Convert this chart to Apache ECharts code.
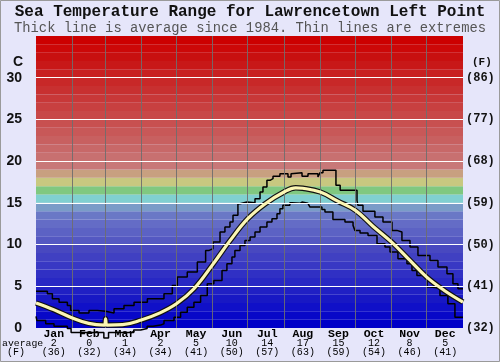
<!DOCTYPE html>
<html><head><meta charset="utf-8">
<script src="https://cdn.jsdelivr.net/npm/echarts@6/dist/echarts.min.js"></script>
<style>html,body{margin:0;padding:0;background:#e6e6fa}#c{width:500px;height:362px}</style>
</head><body><div id="c"></div>
<script>
const titleText = 'Sea Temperature Range for Lawrencetown Left Point';
const subtitleText = 'Thick line is average since 1984. Thin lines are extremes';
const months = ['Jan','Feb','Mar','Apr','May','Jun','Jul','Aug','Sep','Oct','Nov','Dec'];
const monthAvgC = [2,0,1,2,5,10,14,17,15,12,8,5];
const monthAvgF = [36,32,34,34,41,50,57,63,59,54,46,41];
const monthStartDays = [0,31,59,90,120,151,181,212,243,273,304,334,365];
const yTicksC = [0,5,10,15,20,25,30];
const bandColors = ['#0000c8','#0808c8','#1010c8','#1818c4','#2020c4',
  '#2828c4','#3030c4','#3838c4','#4040c2','#4848c0',
  '#5458c2','#5c62c4','#646cc6','#6a78c6','#7a9cc8',
  '#80d0d0','#80c880','#c8c880','#c8a080','#c87878',
  '#c87070','#c86868','#c86060','#c85858','#c85050',
  '#c84848','#c84040','#c83838','#c83030','#c82828',
  '#c82020','#c81818','#c81010','#cc0808','#cc0000'];
const maxLine = [[0,4.4],[9.7,4.1],[14,3.5],[19.7,3.1],[26.8,2.7],[29.6,2.1],[36.8,1.8],[45.3,2.1],[52.4,2.0],[59.5,1.8],[66.7,2.3],[75.2,2.7],[83.8,3.1],[95.2,3.5],[109.4,4.1],[116.5,5.1],[120.8,6.1],[129.3,6.7],[137.9,7.9],[145,9.3],[148,9.5],[151.3,10.3],[157.3,11.5],[161.5,12.1],[165.8,12.7],[168.4,13.5],[172.6,14.9],[174.4,15.1],[180.3,15.0],[187.2,15.5],[191.5,16.3],[194,16.9],[197.4,17.7],[200,17.9],[202.6,18.2],[208.5,18.5],[215.4,18.1],[218,18.5],[219.7,18.6],[227.4,18.2],[232.5,18.5],[241,18.1],[242.7,18.6],[245.3,18.9],[256.4,17.1],[260,16.5],[274.4,15.3],[275.2,14.7],[279.5,14.0],[289.7,13.3],[296.6,12.7],[304.3,11.7],[308.5,11.5],[312.8,10.5],[319.7,9.7],[326.5,8.7],[336.8,8.1],[343.6,7.3],[351.3,6.5],[356.4,5.3],[360.7,4.7],[365,4.7]];
const minLine = [[0,1.4],[0.8,0.9],[8.3,0.5],[15.4,0.2],[26.8,-0.05],[30,-0.55],[58,-1.2],[62,-0.55],[83.5,-0.25],[89.5,-0.05],[95,0.2],[100,0.35],[106.5,0.5],[109.4,0.9],[118,1.3],[123.6,1.9],[129.3,2.5],[135,3.1],[140.7,3.9],[146.4,5.3],[152,5.7],[159,6.9],[163.2,7.7],[167.5,8.5],[170,9.3],[174.4,9.9],[178.6,10.5],[183,10.9],[187.2,11.5],[191.5,12.1],[197.4,12.7],[201.7,13.1],[206,13.7],[208.5,14.3],[211,14.7],[217,15.0],[218.8,14.95],[225.6,15.1],[227.4,14.95],[232.5,15.1],[234.2,14.5],[244.4,14.2],[247,13.9],[253.8,13.0],[264.1,12.7],[271,12.3],[272.6,11.7],[277,11.4],[283.8,11.1],[291.5,10.1],[298.3,9.7],[302.6,9.1],[309.4,8.3],[317.1,7.7],[321.4,6.9],[325.6,6.3],[330,6.1],[334.2,4.9],[336.8,4.8],[345.3,3.9],[352.1,2.9],[358.1,1.3],[365,1.3]];
const avgLine = [[0,3.0],[15,2.2],[31,1.2],[45,0.55],[58.5,0.35],[59.5,1.1],[60.5,0.35],[74,0.4],[90,0.95],[105,1.75],[120,2.9],[135,4.7],[151,7.6],[166,10.5],[181,13.1],[196,14.9],[212,16.3],[222,16.8],[228,16.75],[243,16.3],[258,15.2],[273,14.1],[288,12.2],[304,10.3],[319,8.2],[334,6.1],[349,4.5],[365,3.1]];

const mono = '"Liberation Mono", "DejaVu Sans Mono", monospace';
const chart = echarts.init(document.getElementById('c'), null, {renderer:'canvas'});
const yAxisBase = {type:'value', min:0, max:35, interval:5,
  axisLine:{show:false}, axisTick:{show:false}, splitLine:{show:false}};
chart.setOption({
  backgroundColor:'#e6e6fa',
  animation:false,
  title:[
    {text:titleText, left:'center', top:4, padding:0, textStyle:{fontFamily:mono, fontWeight:'bold', fontSize:16, color:'#111', lineHeight:16}},
    {text:subtitleText, left:'center', top:21, padding:0, textStyle:{fontFamily:mono, fontWeight:'normal', fontSize:13.8, color:'#555', lineHeight:14}}
  ],
  grid:{left:36, right:37, top:36, bottom:34, containLabel:false},
  xAxis:[
    {type:'value', min:0, max:365,
      axisLine:{show:false}, axisTick:{show:false}, splitLine:{show:false}, axisLabel:{show:false}},
    {type:'category', data:months, position:'bottom', boundaryGap:true,
      axisLine:{show:false}, axisTick:{show:false}, splitLine:{show:false},
      axisLabel:{margin:1, interval:0,
        formatter:(v,i)=>'{m|'+v+'}\n{n|'+monthAvgC[i]+'}\n{n|('+monthAvgF[i]+')}',
        rich:{m:{fontFamily:mono, fontWeight:'bold', fontSize:11.5, lineHeight:10, color:'#000'},
              n:{fontFamily:mono, fontSize:10, lineHeight:9, color:'#000'}}}}
  ],
  yAxis:[
    Object.assign({}, yAxisBase, {position:'left', axisLabel:{margin:14, fontFamily:'"Liberation Sans", Arial, sans-serif', fontWeight:'bold', fontSize:14, color:'#111',
      formatter:v=> yTicksC.indexOf(v)>=0 ? String(v) : ''}}),
    Object.assign({}, yAxisBase, {position:'right', axisLabel:{margin:3, fontFamily:mono, fontWeight:'bold', fontSize:12, color:'#111',
      formatter:v=> yTicksC.indexOf(v)>=0 ? '('+Math.round(v*9/5+32)+')' : ''}})
  ],
  graphic:[
    {type:'text', left:13, top:55, style:{text:'C', font:'bold 14px "Liberation Sans", Arial, sans-serif', fill:'#111'}},
    {type:'text', left:472, top:57, style:{text:'(F)', font:'bold 11px '+mono, fill:'#111'}},
    {type:'text', left:2, top:338, style:{text:'average', font:'9.8px '+mono, fill:'#000'}},
    {type:'text', left:7, top:347, style:{text:'(F)', font:'10px '+mono, fill:'#000'}},
    {type:'rect', shape:{x:0.5, y:0.5, width:499, height:361}, style:{fill:'none', stroke:'#9a9a9a', lineWidth:1}, silent:true, z:100}
  ],
  series:[
    {type:'line', name:'bands', data:[], z:1, silent:true,
      markArea:{silent:true, data: bandColors.map((c,i)=>[{yAxis:i, itemStyle:{color:c}},{yAxis:i+1}])}},
    {type:'line', name:'grid', data:[], z:2, silent:true,
      markLine:{silent:true, symbol:['none','none'], label:{show:false}, animation:false,
        data: monthStartDays.slice(1,-1).map(d=>({xAxis:d, lineStyle:{color:'rgba(110,110,110,0.9)', width:1, type:'solid'}}))
          .concat(yTicksC.slice(1).map(v=>({yAxis:v, lineStyle:{color:'#ffffff', width:1, type:'solid'}})))}},
    {type:'line', name:'max', data:maxLine, step:'end', showSymbol:false, z:3, clip:false,
      lineStyle:{color:'#000', width:1.5}},
    {type:'line', name:'min', data:minLine, step:'end', showSymbol:false, z:3, clip:false,
      lineStyle:{color:'#000', width:1.5}},
    {type:'line', name:'avgOutline', data:avgLine, smooth:0.4, showSymbol:false, z:4, clip:false,
      lineStyle:{color:'#111', width:5.5}},
    {type:'line', name:'avg', data:avgLine, smooth:0.4, showSymbol:false, z:5, clip:false,
      lineStyle:{color:'#fbf6b4', width:3.2}}
  ]
});
</script></body></html>
